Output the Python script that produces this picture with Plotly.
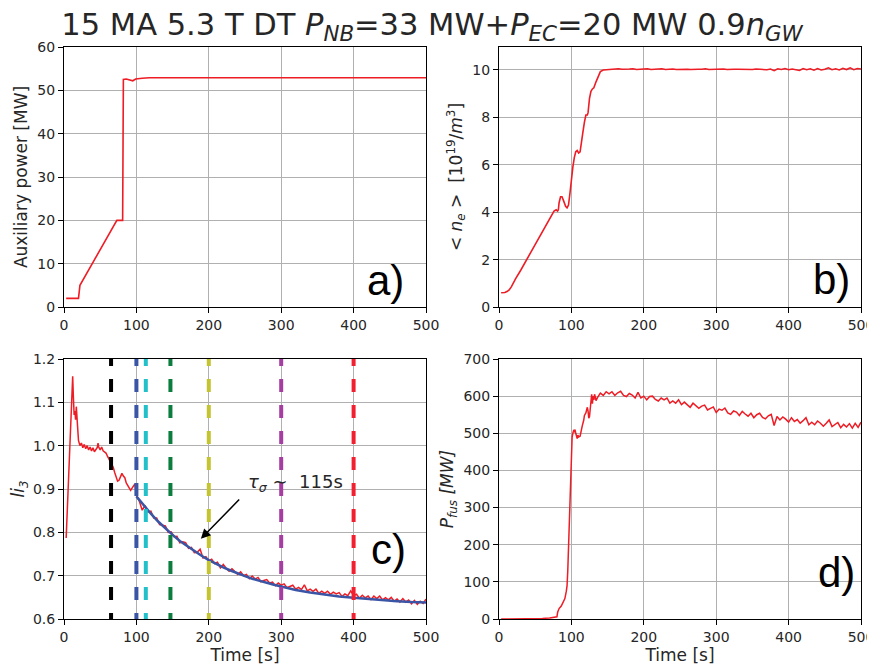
import plotly.graph_objects as go
from plotly.subplots import make_subplots

# ---- a) auxiliary power ----
t_aux = [3, 20, 22, 73, 81, 81.5, 82, 86, 92, 95, 99, 103, 108, 118, 200, 300, 400, 500]
p_aux = [2, 2, 5, 20, 20, 52.5, 52.5, 52.6, 52.4, 52.2, 52.6, 52.7, 52.8, 52.9, 52.9, 52.9, 52.9, 52.9]

# ---- b) line averaged density ----
t_ne = [3, 8, 11, 14, 17, 20, 23, 30, 40, 50, 60, 70, 76, 79, 81, 82, 83, 85, 87, 89, 92, 94, 96, 98,
        100, 102, 104, 106, 108, 110, 112, 114, 116, 118, 120, 122, 123, 125, 127, 129, 131, 134, 137,
        140, 144,
        150, 155, 160, 165, 170, 175, 180, 185, 190, 195, 200, 205, 210, 215, 220, 225, 230, 235, 240,
        245, 250, 255, 260, 265, 270, 275, 280, 285, 290, 295, 300, 305, 310, 315, 320, 325, 330, 335,
        340, 345, 350, 355, 360, 365, 370, 375, 380, 385, 390, 395, 400, 405, 410, 415, 420, 425, 430,
        435, 440, 445, 450, 455, 460, 465, 470, 475, 480, 485, 490, 495, 500]
ne = [0.6, 0.61, 0.65, 0.72, 0.85, 1.05, 1.2, 1.55, 2.1, 2.65, 3.2, 3.75, 4.05, 4.1, 4.05, 4.1, 4.4,
      4.65, 4.65, 4.5, 4.25, 4.18, 4.3, 4.8,
      5.5, 5.9, 6.3, 6.55, 6.6, 6.5, 6.55, 6.9, 7.4, 7.8, 8.1, 8.1, 8.2, 8.8, 9.1, 9.2, 9.25, 9.5, 9.75,
      9.93, 10.0,
      10.02, 10.04, 10.03, 10.05, 10.03, 10.02, 10.04, 10.05, 10.02, 10.03, 10.04, 10.05, 10.02, 10.03,
      10.03, 10.05, 10.02, 10.04, 10.04, 10.02, 10.03, 10.05, 10.03, 10.02, 10.04, 10.03, 10.03, 10.05,
      10.02, 10.03, 10.02, 10.03, 10.04, 10.02, 10.01, 10.03, 10.03, 10.02, 10.04, 10.03, 10.02, 10.04,
      10.02, 10.03, 10.01, 10.04, 9.97, 10.05, 10.02, 10.06, 10.01, 10.04, 10.00, 9.98, 10.06, 10.01,
      10.05, 9.99, 10.06, 10.00, 10.03, 10.09, 10.01, 10.05, 10.00, 10.07, 10.02, 10.09, 10.01, 10.06,
      10.04]

# ---- c) internal inductance ----
t_li = [3, 5, 7, 9, 11, 12, 13, 14, 15, 16, 17, 18, 19, 20, 22, 24, 26, 28, 30, 32, 34, 36, 38, 40,
        42, 44, 46, 47, 48, 50, 52, 54, 56, 58, 60, 62, 64, 66, 68, 70, 72, 74, 76, 78, 80, 82, 84, 86,
        88, 90, 92, 94, 96, 98, 100, 102,
        104, 108, 112, 116, 120, 124, 128, 132, 136, 140, 144, 148, 152, 156, 160, 164, 168, 172, 176,
        180, 184, 188, 192, 196, 200, 204, 208, 212, 216, 220, 224, 228, 232, 236, 240, 244, 248, 252,
        256, 260, 264, 268, 272, 276, 280, 284, 288, 292, 296, 300, 304, 308, 312, 316, 320, 324, 328,
        332, 336, 340, 344, 348, 352, 356, 360, 364, 368, 372, 376, 380, 384, 388, 392, 396, 400, 404,
        408, 412, 416, 420, 424, 428, 432, 436, 440, 444, 448, 452, 456, 460, 464, 468, 472, 476, 480,
        484, 488, 492, 496, 500]
li3 = [0.787, 0.87, 0.955, 1.04, 1.12, 1.16, 1.11, 1.071, 1.08, 1.06, 1.09, 1.065, 1.04, 1.012, 1.0,
       1.006, 0.995, 1.003, 0.993, 1.0, 0.99, 0.997, 0.988, 0.995, 0.986, 0.992, 0.996, 1.006, 0.997,
       0.99, 0.997, 0.988, 0.986, 0.983, 0.976, 0.97, 0.963, 0.958, 0.95, 0.938, 0.925, 0.918, 0.92,
       0.93, 0.936, 0.93, 0.926, 0.914, 0.908, 0.9, 0.897, 0.902, 0.907, 0.912, 0.885, 0.878,
       0.872, 0.851, 0.862, 0.847, 0.849, 0.833, 0.833, 0.818, 0.817, 0.815, 0.800, 0.801, 0.790, 0.791,
       0.776, 0.778, 0.776, 0.763, 0.765, 0.753, 0.754, 0.761, 0.741, 0.744, 0.734, 0.738, 0.728, 0.731,
       0.718, 0.726, 0.717, 0.710, 0.716, 0.710, 0.703, 0.709, 0.700, 0.703, 0.693, 0.699, 0.692, 0.696,
       0.686, 0.689, 0.691, 0.683, 0.685, 0.677, 0.683, 0.678, 0.681, 0.672, 0.676, 0.678, 0.669, 0.673,
       0.668, 0.679, 0.665, 0.669, 0.664, 0.669, 0.659, 0.664, 0.659, 0.664, 0.657, 0.662, 0.658, 0.661,
       0.652, 0.658, 0.654, 0.665, 0.654, 0.657, 0.648, 0.655, 0.649, 0.653, 0.645, 0.653, 0.647, 0.653,
       0.644, 0.649, 0.644, 0.650, 0.641, 0.646, 0.639, 0.647, 0.639, 0.644, 0.635, 0.643, 0.634, 0.641,
       0.636, 0.646]

# exponential fit, tau_sigma ~ 115 s
t_fit = [100, 110, 120, 130, 140, 150, 160, 170, 180, 190, 200, 210, 220, 230, 240, 250, 260, 270,
         280, 290, 300, 320, 340, 360, 380, 400, 420, 440, 460, 480, 500]
li_fit = [0.883, 0.862, 0.843, 0.825, 0.809, 0.794, 0.780, 0.768, 0.756, 0.746, 0.736, 0.727, 0.719,
          0.712, 0.705, 0.699, 0.693, 0.688, 0.683, 0.679, 0.675, 0.667, 0.661, 0.656, 0.652, 0.649,
          0.646, 0.643, 0.641, 0.639, 0.638]

# times of the vertical markers
t_marks = [65, 100, 113, 147, 200, 300, 400]
mark_colors = ['#000000', '#3a55a5', '#22c0c8', '#0c7d3e', '#c4c430', '#a43ea0', '#f02030']

# ---- d) fusion power ----
t_fus = [3, 20, 40, 60, 70, 78, 80, 81, 83, 86, 89, 91, 93, 94, 95, 96, 97, 98, 99, 100, 101, 102,
         103, 104, 105, 106, 107, 108, 109, 110, 112, 113, 115, 117, 118, 120, 121, 122, 123, 124, 125,
         126, 127, 128, 129, 130, 131, 132, 133, 134,
         136, 140, 144, 148, 152, 156, 160, 164, 168, 172, 176, 180, 184, 188, 192, 196, 200, 204, 208,
         212, 216, 220, 224, 228, 232, 236, 240, 244, 248, 252, 256, 260, 264, 268, 272, 276, 280, 284,
         288, 292, 296, 300, 304, 308, 312, 316, 320, 324, 328, 332, 336, 340, 344, 348, 352, 356, 360,
         364, 368, 372, 376, 380, 384, 388, 392, 396, 400, 404, 408, 412, 416, 420, 424, 428, 432, 436,
         440, 444, 448, 452, 456, 460, 464, 468, 472, 476, 480, 484, 488, 492, 496, 500]
p_fus = [0, 0, 0.3, 1.5, 3, 5, 6, 18, 28, 35, 45, 55, 75, 90, 130, 190, 260, 340, 410, 460, 490, 500,
         507, 505, 510, 500, 492, 486, 495, 490, 492, 505, 520, 535, 548, 555, 565, 570, 560, 541, 545,
         565, 585, 605, 580, 600, 590, 605, 598, 588,
         596, 608, 602, 612, 606, 612, 602, 609, 613, 602, 599, 607, 603, 595, 610, 595, 600, 590, 599,
         600, 591, 587, 595, 590, 595, 581, 587, 581, 590, 577, 584, 577, 570, 581, 575, 567, 573, 576,
         563, 566, 571, 556, 565, 562, 568, 555, 551, 560, 557, 548, 559, 552, 546, 554, 542, 550, 554,
         543, 539, 547, 551, 521, 545, 536, 544, 538, 530, 542, 532, 537, 527, 534, 542, 523, 530, 523,
         533, 527, 519, 527, 536, 518, 524, 529, 515, 524, 517, 526, 514, 527, 516, 530]

RED = '#ee1c25'
FONT = 'DejaVu Sans'

fig = make_subplots(rows=2, cols=2)

fig.add_trace(go.Scatter(x=t_aux, y=p_aux, mode='lines', line=dict(color=RED, width=1.6)), row=1, col=1)
fig.add_trace(go.Scatter(x=t_ne, y=ne, mode='lines', line=dict(color=RED, width=1.6)), row=1, col=2)
fig.add_trace(go.Scatter(x=t_li, y=li3, mode='lines', line=dict(color=RED, width=1.5)), row=2, col=1)
fig.add_trace(go.Scatter(x=t_fit, y=li_fit, mode='lines', line=dict(color='#3a55a5', width=2.5)),
              row=2, col=1)
for t, c in zip(t_marks, mark_colors):
    fig.add_trace(go.Scatter(x=[t, t], y=[1.214, 0.6], mode='lines',
                             line=dict(color=c, width=4, dash='13px,13px')), row=2, col=1)
fig.add_trace(go.Scatter(x=t_fus, y=p_fus, mode='lines', line=dict(color=RED, width=1.5)), row=2, col=2)

# panel geometry: page pixels of the reference, minus the 8px body margin of the html page
OFF = 8
W, H = 875 - OFF, 666 - OFF
xl = [(64 - OFF) / W, (426 - OFF) / W]
xr = [(499 - OFF) / W, (861 - OFF) / W]
ytop = [1 - (307 - OFF) / H, 1 - (47 - OFF) / H]
ybot = [1 - (619 - OFF) / H, 1 - (359 - OFF) / H]

axis_common = dict(showline=True, linecolor='black', linewidth=1, mirror=True,
                   ticks='outside', ticklen=5, tickwidth=1, tickcolor='black',
                   showgrid=True, gridcolor='#b0b0b0', gridwidth=1, zeroline=False,
                   tickfont=dict(family=FONT, size=14, color='#262626'), automargin=False)
title_font = dict(family=FONT, size=17, color='#262626')

fig.update_xaxes(**axis_common, range=[0, 500], tickvals=[0, 100, 200, 300, 400, 500])
fig.update_yaxes(**axis_common)

fig.update_layout(
    xaxis=dict(domain=xl), yaxis=dict(domain=ytop, range=[0, 60], dtick=10,
                                      title=dict(text='Auxiliary power [MW]', font=title_font, standoff=5)),
    xaxis2=dict(domain=xr), yaxis2=dict(domain=ytop, range=[0, 10.97], tickvals=[0, 2, 4, 6, 8, 10],
                                        title=dict(text='&lt; <i>n<sub>e</sub></i> &gt;  [10<sup>19</sup>/<i>m</i><sup>3</sup>]',
                                                   font=title_font, standoff=5)),
    xaxis3=dict(domain=xl, title=dict(text='Time [s]', font=title_font, standoff=2)),
    yaxis3=dict(domain=ybot, range=[0.6, 1.2], tickvals=[0.6, 0.7, 0.8, 0.9, 1.0, 1.1, 1.2],
                ticktext=['0.6', '0.7', '0.8', '0.9', '1.0', '1.1', '1.2'],
                title=dict(text='<i>li<sub>3</sub></i>', font=title_font, standoff=5)),
    xaxis4=dict(domain=xr, title=dict(text='Time [s]', font=title_font, standoff=2)),
    yaxis4=dict(domain=ybot, range=[0, 700], dtick=100,
                title=dict(text='<i>P<sub>fus</sub> [MW]</i>', font=title_font, standoff=5)),
)

letter_font = dict(family='Liberation Sans', size=42, color='black')
for txt, xr_, yr_, xp, yp in [('a)', 'x', 'y', 0.946, 0.002), ('b)', 'x2', 'y2', 0.974, 0.008),
                              ('c)', 'x3', 'y3', 0.95, 0.168), ('d)', 'x4', 'y4', 0.99, 0.08)]:
    fig.add_annotation(text=txt, xref=xr_ + ' domain', yref=yr_ + ' domain', x=xp, y=yp,
                       xanchor='right', yanchor='bottom', showarrow=False, font=letter_font)

fig.add_annotation(x=189, y=0.785, ax=244, ay=0.879, xref='x3', yref='y3', axref='x3', ayref='y3',
                   showarrow=True, arrowhead=2, arrowsize=1.3, arrowwidth=1.5, arrowcolor='black', text='')
fig.add_annotation(x=252, y=0.914, xref='x3', yref='y3', xanchor='left', yanchor='middle',
                   text='<i>τ<sub>σ</sub></i> ∼  115s', showarrow=False,
                   font=dict(family=FONT, size=18, color='#262626'))

fig.update_layout(
    title=dict(text='15 MA 5.3 T DT <i>P<sub>NB</sub></i>=33 MW+<i>P<sub>EC</sub></i>=20 MW 0.9<i>n<sub>GW</sub></i>',
               x=(432 - OFF) / W, xanchor='center', y=1 - 16 / H, yanchor='middle', yref='container',
               font=dict(family=FONT, size=30.5, color='#262626')),
    showlegend=False,
    width=W, height=H,
    margin=dict(l=0, r=0, t=0, b=0),
    plot_bgcolor='white', paper_bgcolor='white',
)

fig.write_html("out.html")
